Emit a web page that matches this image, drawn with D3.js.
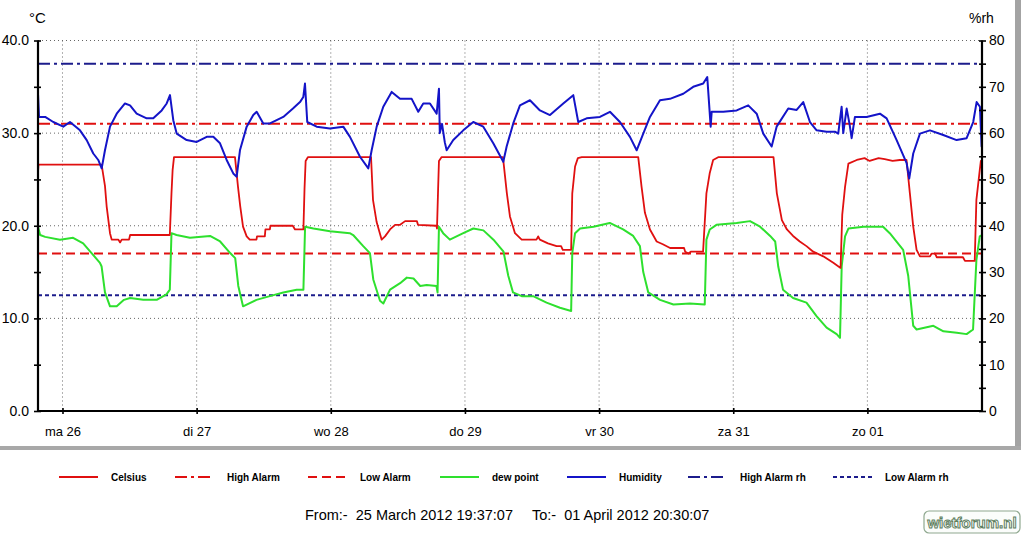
<!DOCTYPE html>
<html><head><meta charset="utf-8">
<script src="https://cdn.jsdelivr.net/npm/d3@7"></script>
<style>
html,body{margin:0;padding:0;background:#fff;}
svg{display:block;font-family:Arial,"Liberation Sans",sans-serif;}
</style></head>
<body><svg id="c" width="1024" height="537"></svg>
<script>
// ---- data (hours since 2012-03-26 00:00, value) ----
const startLabel = "From:-  25 March 2012 19:37:07";
const endLabel = "To:-  01 April 2012 20:30:07";
const startTime = new Date(2012, 2, 25, 19, 37, 7);
const endTime = new Date(2012, 3, 1, 20, 30, 7);
const baseTime = new Date(2012, 2, 26, 0, 0, 0);

const dayLabels = ["ma 26", "di 27", "wo 28", "do 29", "vr 30", "za 31", "zo 01"];
const leftTicks = [0, 5, 10, 15, 20, 25, 30, 35, 40];
const rightTicks = [0, 5, 10, 15, 20, 25, 30, 35, 40, 45, 50, 55, 60, 65, 70, 75, 80];

const highAlarm = 31.0, lowAlarm = 17.0, highAlarmRh = 75, lowAlarmRh = 25;

const celsius = [
[-4.38,25.8],[-4.3,26.6],[7.0,26.6],[7.6,24.3],[7.9,22.1],[8.5,19.2],[8.8,18.5],[10.0,18.5],[10.3,18.2],[10.6,18.5],[11.9,18.5],[12.1,19.0],
[19.2,19.0],[19.5,23.5],[19.7,26.0],[19.95,27.4],[30.86,27.4],[31.4,24.2],[31.8,22.1],[32.3,19.9],[32.95,18.85],[33.5,18.5],[34.7,18.5],
[34.8,18.85],[36.2,18.85],[36.3,19.6],[37.1,19.6],[37.2,20.0],[41.2,20.0],[41.6,19.6],[43.1,19.6],[43.3,24.0],[43.5,27.0],[43.9,27.4],
[55.2,27.4],[55.55,22.8],[56.2,20.4],[57.1,18.5],[57.7,18.85],[58.6,19.6],[59.5,20.1],[60.4,20.1],[61.3,20.5],[63.4,20.5],[63.6,20.1],
[66.9,20.0],[67.0,19.7],[67.2,24.0],[67.35,27.0],[67.8,27.4],[78.8,27.4],[79.5,23.5],[80.05,21.0],[80.95,19.2],[82.15,18.5],[84.8,18.5],
[85.1,18.85],[85.4,18.5],[86.85,18.1],[88.4,17.8],[89.2,17.8],[89.5,17.4],[91.0,17.4],[91.2,23.5],[91.7,26.4],[92.2,27.3],[92.9,27.4],
[103.0,27.4],[103.6,24.2],[104.2,21.4],[105.1,19.6],[106.3,18.3],[107.4,18.0],[108.7,17.6],[111.2,17.6],[111.4,17.2],[112.0,17.0],[112.4,17.2],
[114.6,17.2],[115.2,23.5],[115.8,25.7],[116.4,27.1],[117.3,27.4],[127.2,27.4],[127.8,23.5],[128.7,20.6],[129.6,19.6],[130.7,18.9],
[131.9,18.3],[133.1,17.8],[134.3,17.2],[136.1,16.7],[137.9,16.0],[139.2,15.45],[139.5,21.2],[140.0,24.2],[140.6,26.7],[142.1,27.1],
[143.5,27.3],[144.4,27.0],[146.0,27.3],[147.1,27.2],[148.5,27.0],[149.8,27.1],[151.0,27.1],[151.6,23.5],[152.2,19.9],[152.8,17.4],
[153.4,16.7],[155.2,16.7],[155.5,17.0],[156.1,17.0],[156.4,16.6],[161.1,16.6],[161.45,16.2],[163.2,16.2],[163.5,22.8],[164.1,26.0],[164.3,27.0],[164.5,26.5]
];

const dewPoint = [
[-4.38,19.9],[-4.0,19.0],[-3.1,18.8],[-0.45,18.5],[1.9,18.7],[3.7,18.1],[5.2,17.05],[6.7,16.0],[7.0,15.6],[7.6,12.8],[8.5,11.3],
[9.7,11.3],[11.0,12.0],[12.1,12.2],[14.45,12.0],[16.85,12.0],[18.6,12.6],[19.2,13.1],[19.5,19.2],[20.4,19.0],[22.8,18.7],[26.4,18.9],
[28.2,18.3],[30.0,17.05],[30.9,16.5],[31.45,13.5],[32.3,11.3],[34.7,12.0],[37.1,12.4],[39.5,12.8],[41.9,13.1],[43.1,13.1],[43.4,19.9],
[44.9,19.7],[47.85,19.4],[51.4,19.2],[52.0,19.0],[53.8,17.8],[55.0,17.05],[55.6,14.2],[56.8,11.9],[57.4,11.6],[58.6,13.1],[60.4,13.8],
[61.6,14.4],[62.8,14.3],[64.0,13.5],[65.15,13.6],[66.9,13.5],[67.1,12.8],[67.35,19.9],[68.1,19.2],[69.3,18.5],[71.7,19.2],[73.5,19.7],
[75.3,19.5],[77.1,18.5],[78.9,17.2],[79.75,14.6],[80.6,12.8],[82.15,12.4],[84.2,12.4],[86.6,11.7],[89.0,11.15],[91.0,10.8],[91.2,17.05],
[91.7,19.2],[92.6,19.7],[95.0,19.9],[97.9,20.3],[100.3,19.6],[102.1,18.9],[103.3,17.8],[103.9,15.0],[104.8,12.8],[106.9,12.0],[109.3,11.5],
[112.25,11.6],[114.9,11.5],[115.2,18.5],[115.8,19.6],[117.0,20.1],[120.6,20.3],[123.0,20.5],[124.8,19.9],[126.6,18.9],[127.5,18.3],
[128.05,15.6],[128.9,13.1],[130.7,12.2],[133.1,11.7],[134.9,10.25],[136.7,9.0],[138.5,8.3],[139.1,7.9],[139.4,15.6],[140.0,18.85],
[140.6,19.7],[143.3,19.9],[146.8,19.9],[148.0,19.2],[150.4,17.4],[151.3,14.6],[152.2,9.2],[152.8,8.8],[155.8,9.2],[157.6,8.6],
[160.0,8.45],[161.75,8.3],[162.9,8.8],[163.5,16.3],[164.1,18.85],[164.5,19.0]
];

const humidity = [
[-4.38,68.5],[-4.2,63.5],[-3.1,63.5],[-1.65,62.4],[0.14,61.4],[1.34,62.4],[3.13,60.6],[4.33,58.5],[5.51,55.6],[6.40,54.2],[7.01,52.4],
[7.6,56.3],[8.5,61.4],[9.7,64.2],[11.18,66.4],[12.08,66.0],[13.27,64.2],[15.06,63.2],[16.24,63.2],[17.75,64.9],[18.64,66.4],[19.23,68.2],
[19.82,62.8],[20.43,59.9],[22.22,58.5],[24.01,58.1],[25.80,59.2],[26.98,59.2],[28.18,57.8],[29.37,54.2],[30.55,51.3],[31.16,50.6],
[31.75,56.3],[32.95,61.4],[34.13,63.9],[34.74,64.6],[35.92,62.1],[37.12,62.1],[39.50,63.5],[41.23,65.3],[42.49,66.7],[43.08,67.8],
[43.38,70.7],[43.79,62.4],[45.47,61.4],[47.85,61.0],[50.23,61.4],[51.43,59.2],[53.22,54.9],[54.71,52.4],[55.31,56.3],[56.21,61.4],
[57.39,65.7],[58.89,68.9],[60.38,67.4],[62.47,67.4],[63.65,64.6],[64.54,66.4],[65.74,66.4],[66.94,64.2],[67.35,69.6],[67.5,60.0],
[67.9,62.0],[68.4,58.0],[68.73,56.3],[69.91,58.5],[71.70,60.6],[73.49,62.4],[75.28,61.4],[77.07,57.8],[78.86,53.8],[79.46,57.1],
[80.64,62.1],[81.84,66.0],[83.63,67.1],[85.42,64.9],[87.21,63.9],[89.59,66.4],[91.38,68.2],[92.27,62.4],[93.77,63.2],[96.15,63.5],
[97.94,64.6],[99.73,62.4],[101.52,59.2],[102.72,56.3],[103.90,59.9],[105.10,63.5],[106.89,67.1],[108.68,67.4],[111.06,68.5],
[112.84,70.0],[114.63,70.7],[115.35,72.1],[115.96,61.4],[116.14,64.6],[118.21,64.6],[120.61,64.9],[122.68,66.0],[124.19,64.2],
[125.37,59.9],[126.87,57.1],[127.76,61.4],[129.84,65.3],[131.34,65.0],[132.52,66.7],[133.72,62.4],[134.92,60.6],[136.71,60.3],
[138.19,60.3],[138.78,59.9],[139.39,65.7],[139.68,60.0],[140.29,65.3],[140.8,62.0],[141.18,58.9],[141.77,63.5],[143.86,63.5],
[146.24,64.2],[147.44,63.2],[149.23,58.5],[151.02,53.5],[151.48,50.2],[152.20,55.6],[153.40,59.9],[155.19,60.6],[157.57,59.6],
[159.96,58.5],[161.75,58.9],[162.93,62.4],[163.54,66.7],[164.13,65.7],[164.43,57.1],[164.5,62.0]
];

const legendItems = ["Celsius", "High Alarm", "Low Alarm", "dew point", "Humidity", "High Alarm rh", "Low Alarm rh"];

// ---- drawing ----
const svg = d3.select("#c");
const X0 = 38, X1 = 982, Y0 = 411, Y1 = 40.5;
const toDate = h => new Date(baseTime.getTime() + h * 3600e3);
const x = d3.scaleTime().domain([startTime, endTime]).range([X0, X1]);
const yL = d3.scaleLinear().domain([0, 40]).range([Y0, Y1]);
const yR = d3.scaleLinear().domain([0, 80]).range([Y0, Y1]);
const midnights = dayLabels.map((d, i) => toDate(i * 24));

const RED = "#e01010", GREEN = "#2ee02e", BLUE = "#1414c8", NAVY = "#1c1c8c";
const styles = {
  "Celsius": {c: RED, d: null},
  "High Alarm": {c: RED, d: "12,4,3,4"},
  "Low Alarm": {c: RED, d: "9,5"},
  "dew point": {c: GREEN, d: null},
  "Humidity": {c: BLUE, d: null},
  "High Alarm rh": {c: NAVY, d: "12,4,3,4"},
  "Low Alarm rh": {c: NAVY, d: "4,3"}
};

// frame shadow
svg.append("rect").attr("x", 1015).attr("y", 0).attr("width", 6).attr("height", 450).attr("fill", "#a3a3a3");
svg.append("rect").attr("x", 0).attr("y", 446).attr("width", 1021).attr("height", 4).attr("fill", "#a8a8a8");

// grid
const grid = svg.append("g").attr("stroke", "#666").attr("stroke-width", 1).attr("stroke-dasharray", "1,3");
[10, 20, 30, 40].forEach(v => grid.append("line").attr("x1", X0).attr("x2", X1).attr("y1", yL(v)).attr("y2", yL(v)));
midnights.forEach(d => grid.append("line").attr("x1", x(d)).attr("x2", x(d)).attr("y1", Y1).attr("y2", Y0));

// clip
svg.append("clipPath").attr("id", "clip").append("rect").attr("x", X0).attr("y", Y1 - 2).attr("width", X1 - X0).attr("height", Y0 - Y1 + 2);
const plot = svg.append("g").attr("clip-path", "url(#clip)");

function hline(y, st) {
  plot.append("line").attr("x1", X0).attr("x2", X1).attr("y1", y).attr("y2", y)
    .attr("stroke", st.c).attr("stroke-width", 2).attr("stroke-dasharray", st.d);
}
hline(yR(highAlarmRh), styles["High Alarm rh"]);
hline(yR(lowAlarmRh), styles["Low Alarm rh"]);
hline(yL(highAlarm), styles["High Alarm"]);
hline(yL(lowAlarm), styles["Low Alarm"]);

const lineL = d3.line().x(d => x(toDate(d[0]))).y(d => yL(d[1]));
const lineR = d3.line().x(d => x(toDate(d[0]))).y(d => yR(d[1]));
plot.append("path").datum(dewPoint).attr("d", lineL).attr("fill", "none").attr("stroke", GREEN).attr("stroke-width", 2).attr("stroke-linejoin", "round");
plot.append("path").datum(celsius).attr("d", lineL).attr("fill", "none").attr("stroke", RED).attr("stroke-width", 1.8).attr("stroke-linejoin", "round");
plot.append("path").datum(humidity).attr("d", lineR).attr("fill", "none").attr("stroke", BLUE).attr("stroke-width", 2).attr("stroke-linejoin", "round");

// axes
const fontAxis = 14;
const gl = svg.append("g").attr("transform", `translate(${X0},0)`)
  .call(d3.axisLeft(yL).tickValues(leftTicks).tickSize(4).tickPadding(5)
    .tickFormat(d => d % 10 === 0 ? d3.format(".1f")(d) : ""));
const gr = svg.append("g").attr("transform", `translate(${X1},0)`)
  .call(d3.axisRight(yR).tickValues(rightTicks).tickSize(3).tickPadding(4)
    .tickFormat(d => d % 10 === 0 ? d : ""));
const gb = svg.append("g").attr("transform", `translate(0,${Y0})`)
  .call(d3.axisBottom(x).tickValues(midnights).tickSize(3).tickPadding(13)
    .tickFormat((d, i) => dayLabels[i]));
[gl, gr, gb].forEach(g => {
  g.select(".domain").attr("stroke", "#000").attr("stroke-width", 2.2);
  g.selectAll(".tick line").attr("stroke", "#000").attr("stroke-width", 1.6);
  g.selectAll("text").attr("fill", "#000").attr("font-family", "Arial, 'Liberation Sans', sans-serif");
});
gl.select(".domain").attr("d", `M0,${Y0}V${Y1}`);
gr.select(".domain").attr("d", `M0,${Y0}V${Y1}`);
gb.select(".domain").attr("d", `M${X0},0H${X1}`);
gl.selectAll(".tick line").attr("x2", -4).attr("x1", 3);
gr.selectAll(".tick line").attr("x1", -3).attr("x2", 4);
gb.selectAll(".tick line").attr("y1", -3).attr("y2", 3);
gl.selectAll("text").attr("font-size", fontAxis);
gr.selectAll("text").attr("font-size", fontAxis);
gb.selectAll("text").attr("font-size", 13);

svg.append("text").attr("x", 29).attr("y", 23).attr("font-size", 15).text("°C");
svg.append("text").attr("x", 969).attr("y", 23).attr("font-size", 14).text("%rh");

// legend
const legX = [59, 175, 308, 440, 567, 688, 833];
const lg = svg.append("g");
legendItems.forEach((name, i) => {
  const st = styles[name];
  lg.append("line").attr("x1", legX[i]).attr("x2", legX[i] + 39).attr("y1", 477).attr("y2", 477)
    .attr("stroke", st.c).attr("stroke-width", 2).attr("stroke-dasharray", st.d);
  lg.append("text").attr("x", legX[i] + 52).attr("y", 481).attr("font-size", 10).attr("font-weight", "bold").text(name);
});

// footer
svg.append("text").attr("x", 305).attr("y", 520).attr("font-size", 14.5).attr("xml:space", "preserve").text(startLabel);
svg.append("text").attr("x", 532).attr("y", 520).attr("font-size", 14.5).attr("xml:space", "preserve").text(endLabel);

// watermark
svg.append("rect").attr("x", 924).attr("y", 511).attr("width", 96).attr("height", 22).attr("rx", 5)
  .attr("fill", "#fbfdfb").attr("stroke", "#8fa88f").attr("stroke-width", 1.2);
svg.append("text").attr("x", 972).attr("y", 528).attr("text-anchor", "middle").attr("font-size", 15)
  .attr("font-weight", "bold").attr("fill", "#fff").attr("stroke", "#5f7f5f").attr("stroke-width", 1).text("wietforum.nl");
</script></body></html>
